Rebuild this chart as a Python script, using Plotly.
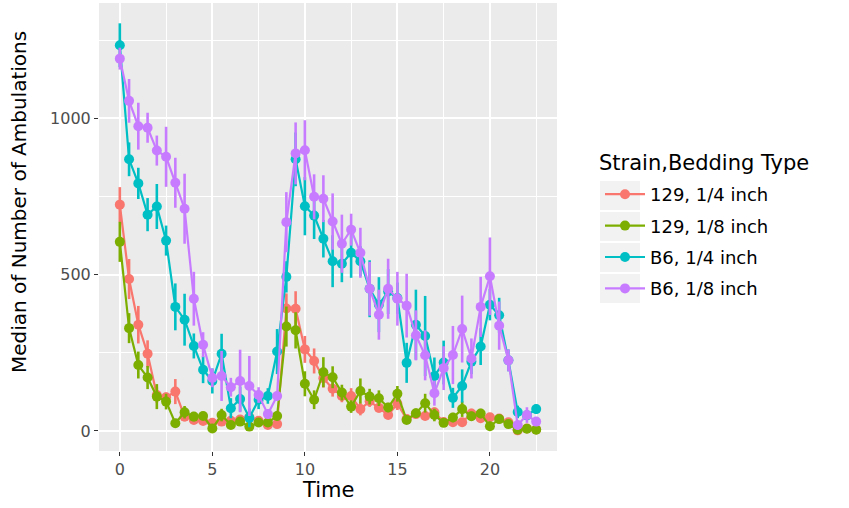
import plotly.graph_objects as go

# Time points (hours)
time = [0, 0.5, 1, 1.5, 2, 2.5, 3, 3.5, 4, 4.5, 5, 5.5, 6, 6.5, 7, 7.5,
        8, 8.5, 9, 9.5, 10, 10.5, 11, 11.5, 12, 12.5, 13, 13.5, 14, 14.5,
        15, 15.5, 16, 16.5, 17, 17.5, 18, 18.5, 19, 19.5, 20, 20.5, 21,
        21.5, 22, 22.5]

# Median ambulations per group
s129_quarter = [724, 486, 340, 247, 115, 108, 126, 46, 35, 32, 26, 30, 33, 37, 44, 33,
                19, 22, 392, 391, 261, 224, 169, 135, 112, 112, 70, 95, 74, 51,
                87, 38, 54, 48, 60, 29, 28, 28, 56, 41, 44, 40, 28,
                2, 8, 5]
s129_eighth = [605, 329, 211, 171, 110, 94, 25, 60, 46, 48, 8, 51, 19, 30, 14, 27,
               27, 48, 334, 322, 151, 100, 188, 172, 123, 78, 128, 110, 105, 75,
               119, 35, 57, 89, 51, 26, 43, 70, 47, 56, 15, 38, 22,
               4, 7, 4]
b6_quarter = [1234, 869, 792, 692, 718, 609, 397, 356, 272, 196, 160, 247, 73, 102, 42, 100,
              112, 254, 493, 869, 719, 689, 615, 543, 535, 570, 543, 455, 404, 446,
              425, 218, 340, 304, 176, 219, 106, 144, 222, 270, 404, 370, 226,
              61, 50, 70]
b6_eighth = [1191, 1056, 975, 970, 897, 877, 794, 711, 423, 276, 170, 176, 140, 160, 144, 115,
             54, 112, 668, 888, 898, 749, 743, 670, 599, 644, 570, 455, 372, 455,
             423, 401, 306, 242, 121, 201, 243, 326, 232, 397, 495, 337, 226,
             19, 51, 30]

# Error bar half-widths
s129_quarter_err = [56, 64, 60, 43, 25, 15, 40, 15, 12, 10, 10, 10, 10, 12, 10, 10,
                    8, 8, 48, 56, 43, 40, 30, 25, 20, 25, 20, 18, 15, 12,
                    20, 10, 12, 10, 15, 10, 10, 10, 15, 10, 10, 10, 8,
                    5, 5, 5]
s129_eighth_err = [64, 48, 43, 37, 40, 25, 10, 20, 15, 12, 10, 20, 10, 10, 8, 10,
                   10, 15, 64, 58, 40, 30, 48, 35, 25, 20, 40, 25, 25, 15,
                   25, 10, 15, 30, 20, 10, 15, 25, 15, 15, 10, 10, 8,
                   5, 5, 5]
b6_quarter_err = [70, 54, 50, 53, 72, 48, 75, 83, 40, 43, 40, 64, 32, 40, 30, 30,
                  25, 72, 50, 86, 93, 75, 60, 83, 59, 80, 48, 91, 88, 72,
                  50, 64, 112, 128, 59, 70, 32, 53, 40, 59, 50, 56, 35,
                  20, 15, 15]
b6_eighth_err = [35, 70, 75, 48, 48, 96, 80, 112, 86, 40, 30, 80, 30, 100, 96, 25,
                 15, 15, 96, 99, 96, 72, 75, 90, 93, 51, 80, 86, 80, 96,
                 86, 102, 80, 80, 40, 70, 93, 107, 64, 96, 124, 77, 35,
                 15, 25, 10]

group_names = ["129, 1/4 inch", "129, 1/8 inch", "B6, 1/4 inch", "B6, 1/8 inch"]
group_colors = ["#F8766D", "#7CAE00", "#00BFC4", "#C77CFF"]
group_values = [s129_quarter, s129_eighth, b6_quarter, b6_eighth]
group_errors = [s129_quarter_err, s129_eighth_err, b6_quarter_err, b6_eighth_err]

x_ticks = [0, 5, 10, 15, 20]
y_ticks = [0, 500, 1000]

FONT = "DejaVu Sans"

fig = go.Figure()
for name, color, vals, errs in zip(group_names, group_colors, group_values, group_errors):
    fig.add_trace(go.Scatter(
        x=time, y=vals, name=name, legendgroup=name,
        mode="lines+markers",
        line=dict(color=color, width=2.2),
        marker=dict(color=color, size=10),
        error_y=dict(type="data", array=errs, visible=True, color=color,
                     thickness=2.6, width=0),
    ))

# panel pixel geometry
W, H = 849, 508
pl, pr, pt, pb = 99, 557, 3, 451
pw, ph = pr - pl, pb - pt

def px_x(px):
    return (px - pl) / pw

def px_y(py):
    return (pb - py) / ph

# grey background boxes behind the legend keys
shapes = []
for i in range(4):
    top = 181 + i * 31
    shapes.append(dict(type="rect", xref="paper", yref="paper",
                       x0=px_x(600), x1=px_x(640), y0=px_y(top + 29), y1=px_y(top),
                       fillcolor="#F2F2F2", line=dict(width=0), layer="below"))

fig.update_layout(
    width=W, height=H,
    margin=dict(l=pl, r=W - pr, t=pt, b=H - pb, pad=0),
    paper_bgcolor="white",
    plot_bgcolor="#EBEBEB",
    font=dict(family=FONT, color="#4D4D4D"),
    showlegend=True,
    legend=dict(
        x=px_x(600), y=px_y(176), xanchor="left", yanchor="top",
        bgcolor="rgba(0,0,0,0)",
        font=dict(size=18, color="black", family=FONT),
        tracegroupgap=5,
        itemwidth=40,
    ),
    shapes=shapes,
    annotations=[
        dict(text="Strain,Bedding Type", xref="paper", yref="paper",
             x=px_x(597), y=px_y(163), xanchor="left", yanchor="middle",
             showarrow=False, font=dict(size=21, color="black", family=FONT)),
        dict(text="Median of Number of Ambulations", textangle=-90,
             xref="paper", yref="paper", x=px_x(19), y=px_y(202),
             xanchor="center", yanchor="middle", showarrow=False,
             font=dict(size=20, color="black", family=FONT)),
        dict(text="Time", xref="paper", yref="paper", x=px_x(328), y=px_y(490),
             xanchor="center", yanchor="middle", showarrow=False,
             font=dict(size=21, color="black", family=FONT)),
    ],
)

fig.update_xaxes(
    range=[-1.125, 23.625],
    tickvals=x_ticks, ticktext=[str(v) for v in x_ticks],
    showgrid=True, gridcolor="white", gridwidth=1.8,
    minor=dict(dtick=2.5, tick0=0, showgrid=True, gridcolor="white", gridwidth=0.8),
    zeroline=False, showline=False,
    ticks="outside", ticklen=4, tickwidth=1.2, tickcolor="#333333",
    tickfont=dict(size=16, color="#4D4D4D", family=FONT),
)
fig.update_yaxes(
    range=[-64, 1369],
    tickvals=y_ticks, ticktext=[str(v) for v in y_ticks],
    showgrid=True, gridcolor="white", gridwidth=1.8,
    minor=dict(dtick=250, tick0=0, showgrid=True, gridcolor="white", gridwidth=0.8),
    zeroline=False, showline=False,
    ticks="outside", ticklen=4, tickwidth=1.2, tickcolor="#333333",
    tickfont=dict(size=16, color="#4D4D4D", family=FONT),
)

fig.write_html("out.html")
